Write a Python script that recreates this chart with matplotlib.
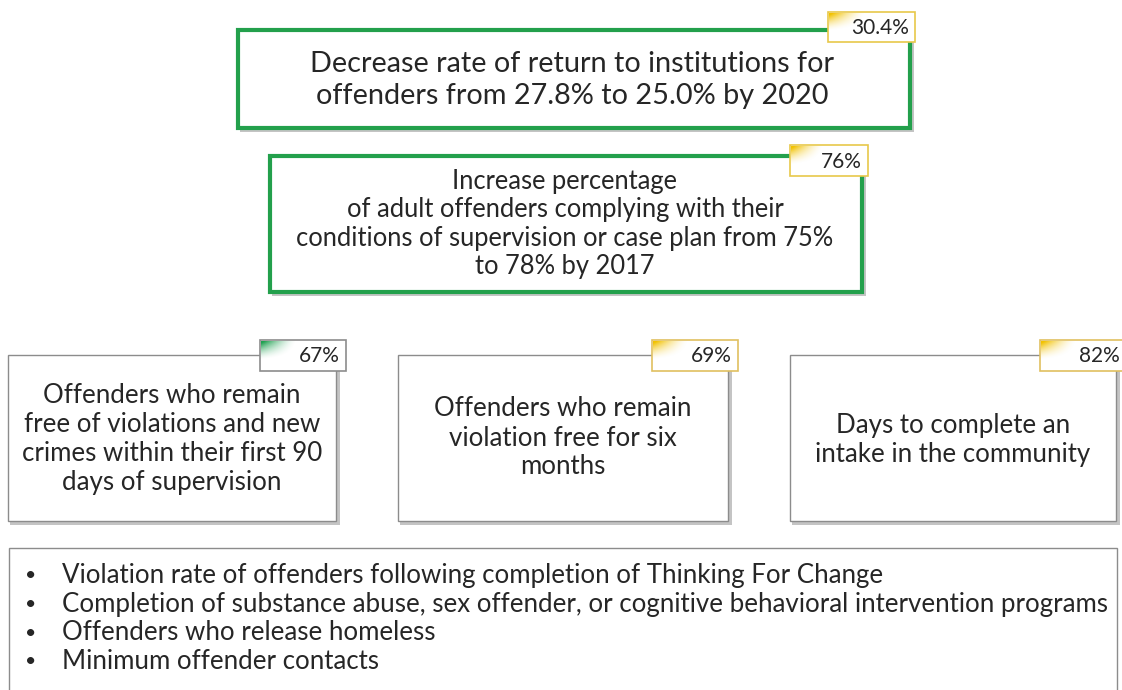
import matplotlib.pyplot as plt
from matplotlib.patches import Rectangle
import numpy as np

# texts and values
goal_texts = ["Decrease rate of return to institutions for\noffenders from 27.8% to 25.0% by 2020",
              "Increase percentage\nof adult offenders complying with their\nconditions of supervision or case plan from 75%\nto 78% by 2017"]
goal_tags = ["30.4%", "76%"]
measure_texts = ["Offenders who remain\nfree of violations and new\ncrimes within their first 90\ndays of supervision",
                 "Offenders who remain\nviolation free for six\nmonths",
                 "Days to complete an\nintake in the community"]
measure_tags = ["67%", "69%", "82%"]
tag_colors = ["#f2c200", "#f2c200", "#1fa050", "#f2c200", "#f2c200"]
bullets = ["Violation rate of offenders following completion of Thinking For Change",
           "Completion of substance abuse, sex offender, or cognitive behavioral intervention programs",
           "Offenders who release homeless",
           "Minimum offender contacts"]

W, H = 1122, 690
fig = plt.figure(figsize=(W / 100, H / 100), dpi=100)
ax = fig.add_axes([0, 0, 1, 1])
ax.set_xlim(0, W)
ax.set_ylim(H, 0)
ax.axis('off')
plt.rcParams['font.family'] = ['Lato', 'DejaVu Sans']
txtcol = '#262626'


def box(x0, y0, x1, y1, edge, lw):
    # shadow first
    ax.add_patch(Rectangle((x0 + 2, y0 + 3), x1 - x0 + 2, y1 - y0 + 1, fc='#c4c4c4', ec='none', zorder=1))
    ax.add_patch(Rectangle((x0, y0), x1 - x0, y1 - y0, fc='white', ec=edge, lw=lw, zorder=2))


def tag(x0, y0, x1, y1, label, col, edge):
    ax.add_patch(Rectangle((x0, y0), x1 - x0, y1 - y0, fc='white', ec=edge, lw=1.2, zorder=4))
    # corner gradient
    g = np.linspace(1, 0, 40)
    gx, gy = np.meshgrid(g, g)
    a = np.clip(gx * gy * 1.3 - 0.2, 0, 1) ** 1.5
    rgba = np.zeros((40, 40, 4))
    rgba[..., :3] = plt.matplotlib.colors.to_rgb(col)
    rgba[..., 3] = a
    ax.imshow(rgba, extent=(x0 + 1, x0 + (x1 - x0) * 0.5, y1 - 8, y0 + 1), zorder=5, aspect='auto')
    ax.text(x1 - 6, (y0 + y1) / 2 + 1, label, ha='right', va='center', fontsize=15,
            color=txtcol, zorder=6)


green = '#23a04c'
# goal boxes
box(238, 30, 910, 128, green, 3)
ax.text(572, 80, goal_texts[0], ha='center', va='center', fontsize=20.8, color=txtcol,
        linespacing=1.3, zorder=3)
tag(828, 12, 915, 42, goal_tags[0], tag_colors[0], '#e8c84a')

box(270, 156, 862, 292, green, 3)
ax.text(565, 224, goal_texts[1], ha='center', va='center', fontsize=18.4, color=txtcol,
        linespacing=1.18, zorder=3)
tag(790, 145, 868, 176, goal_tags[1], tag_colors[1], '#e8c84a')

# measure boxes
xs = [(8, 336), (398, 728), (790, 1116)]
ys = [439, 438, 440]
for i, (x0, x1) in enumerate(xs):
    box(x0, 355, x1, 521, '#8c8c8c', 1)
    ax.text((x0 + x1) / 2, ys[i], measure_texts[i], ha='center', va='center', fontsize=18.6,
            color=txtcol, linespacing=1.2, zorder=3)
    edge = '#8c8c8c' if i == 0 else '#e0c060'
    tag(x1 - 76, 340, x1 + 10, 371, measure_tags[i], tag_colors[2 + i], edge)

# bottom list box
ax.add_patch(Rectangle((9, 548), 1108, 150, fc='white', ec='#8c8c8c', lw=1, zorder=2))
for k, b in enumerate(bullets):
    y = 576 + k * 28.5
    ax.text(25, y, '\u2022', ha='left', va='center', fontsize=14, color=txtcol, zorder=3)
    ax.text(62, y, b, ha='left', va='center', fontsize=18.6, color=txtcol, zorder=3)

fig.savefig('out.png', dpi=100)
